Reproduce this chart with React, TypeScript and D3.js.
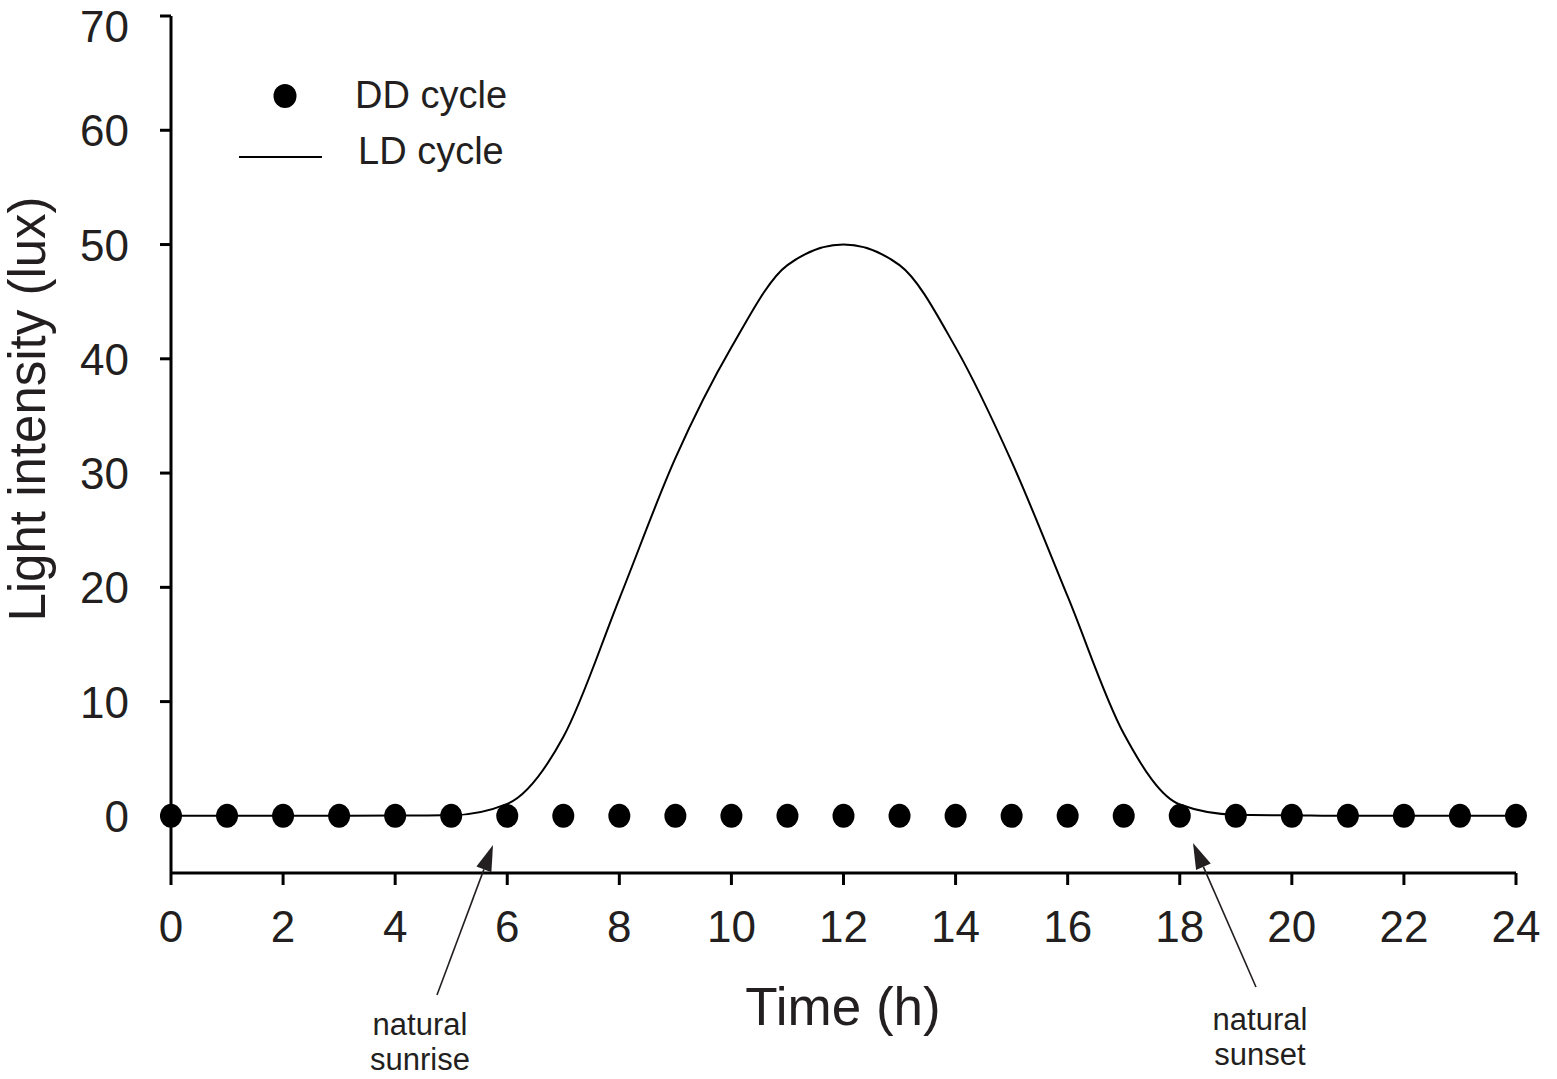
import React from 'react'
import { scaleLinear, line, curveMonotoneX } from 'd3'

const hours = [0, 1, 2, 3, 4, 5, 6, 7, 8, 9, 10, 11, 12, 13, 14, 15, 16, 17, 18, 19, 20, 21, 22, 23, 24]
const ddValues = [0, 0, 0, 0, 0, 0, 0, 0, 0, 0, 0, 0, 0, 0, 0, 0, 0, 0, 0, 0, 0, 0, 0, 0, 0]
const ldValues = [0, 0, 0, 0, 0.03, 0.05, 1.05, 6.9, 19, 31.3, 41, 48.2, 50, 48.2, 41, 31, 19.2, 7.2, 1, 0.1, 0.05, 0, 0, 0, 0]
const xTicks = [0, 2, 4, 6, 8, 10, 12, 14, 16, 18, 20, 22, 24]
const yTicks = [0, 10, 20, 30, 40, 50, 60, 70]

const W = 1557
const H = 1079
const font = 'Liberation Sans, Arial, sans-serif'
const ink = '#231f20'

export default function App() {
  const x = scaleLinear().domain([0, 24]).range([171, 1516])
  const y = scaleLinear().domain([-5, 70]).range([873, 16])

  const ldLine = line<number>()
    .x((_, i) => x(hours[i]))
    .y(d => y(d))
    .curve(curveMonotoneX)

  // little arrow helper for the sunrise / sunset notes
  const arrow = (x1: number, y1: number, x2: number, y2: number) => {
    const ang = Math.atan2(y2 - y1, x2 - x1)
    const len = 26
    const half = 8
    const bx = x2 - len * Math.cos(ang)
    const by = y2 - len * Math.sin(ang)
    const px = -Math.sin(ang) * half
    const py = Math.cos(ang) * half
    return (
      <g>
        <line x1={x1} y1={y1} x2={bx} y2={by} stroke={ink} strokeWidth={1.6} />
        <polygon points={`${x2},${y2} ${bx + px},${by + py} ${bx - px},${by - py}`} fill={ink} />
      </g>
    )
  }

  return (
    <svg width={W} height={H} style={{ position: 'absolute', left: 0, top: 0, background: '#fff' }}>
      {/* y axis */}
      <line x1={x(0)} x2={x(0)} y1={y(70)} y2={y(-5)} stroke="#000" strokeWidth={3} />
      {yTicks.map(t => (
        <g key={'y' + t}>
          <line x1={x(0) - 11} x2={x(0)} y1={y(t)} y2={y(t)} stroke="#000" strokeWidth={3} />
          <text x={x(0) - 42} y={Math.max(y(t) + 16, 42)} textAnchor="end" fontSize={44} fontFamily={font} fill={ink}>{t}</text>
        </g>
      ))}
      {/* x axis */}
      <line x1={x(0)} x2={x(24)} y1={y(-5)} y2={y(-5)} stroke="#000" strokeWidth={3} />
      {xTicks.map(t => (
        <g key={'x' + t}>
          <line x1={x(t)} x2={x(t)} y1={y(-5)} y2={y(-5) + 12} stroke="#000" strokeWidth={3} />
          <text x={x(t)} y={942} textAnchor="middle" fontSize={44} fontFamily={font} fill={ink}>{t}</text>
        </g>
      ))}

      <text x={843} y={1025} textAnchor="middle" fontSize={53} fontFamily={font} fill={ink}>Time (h)</text>
      <text transform="translate(45,409) rotate(-90)" textAnchor="middle" fontSize={51} fontFamily={font} fill={ink}>Light intensity (lux)</text>

      {/* LD curve */}
      <path d={ldLine(ldValues) || ''} fill="none" stroke="#000" strokeWidth={2} />
      {/* DD points */}
      {ddValues.map((v, i) => (
        <ellipse key={'d' + i} cx={x(hours[i])} cy={y(v)} rx={11} ry={12} fill="#000" />
      ))}

      {/* legend */}
      <ellipse cx={285} cy={96} rx={11.5} ry={12} fill="#000" />
      <text x={355} y={108} fontSize={38} fontFamily={font} fill={ink}>DD cycle</text>
      <line x1={239} x2={322} y1={157} y2={157} stroke="#000" strokeWidth={2} />
      <text x={358} y={164} fontSize={38} fontFamily={font} fill={ink}>LD cycle</text>

      {/* annotations */}
      {arrow(437, 995, 493, 845)}
      <text x={420} y={1035} textAnchor="middle" fontSize={31} fontFamily={font} fill={ink}>natural</text>
      <text x={420} y={1070} textAnchor="middle" fontSize={31} fontFamily={font} fill={ink}>sunrise</text>
      {arrow(1256, 987, 1193, 843)}
      <text x={1260} y={1030} textAnchor="middle" fontSize={31} fontFamily={font} fill={ink}>natural</text>
      <text x={1260} y={1065} textAnchor="middle" fontSize={31} fontFamily={font} fill={ink}>sunset</text>
    </svg>
  )
}
